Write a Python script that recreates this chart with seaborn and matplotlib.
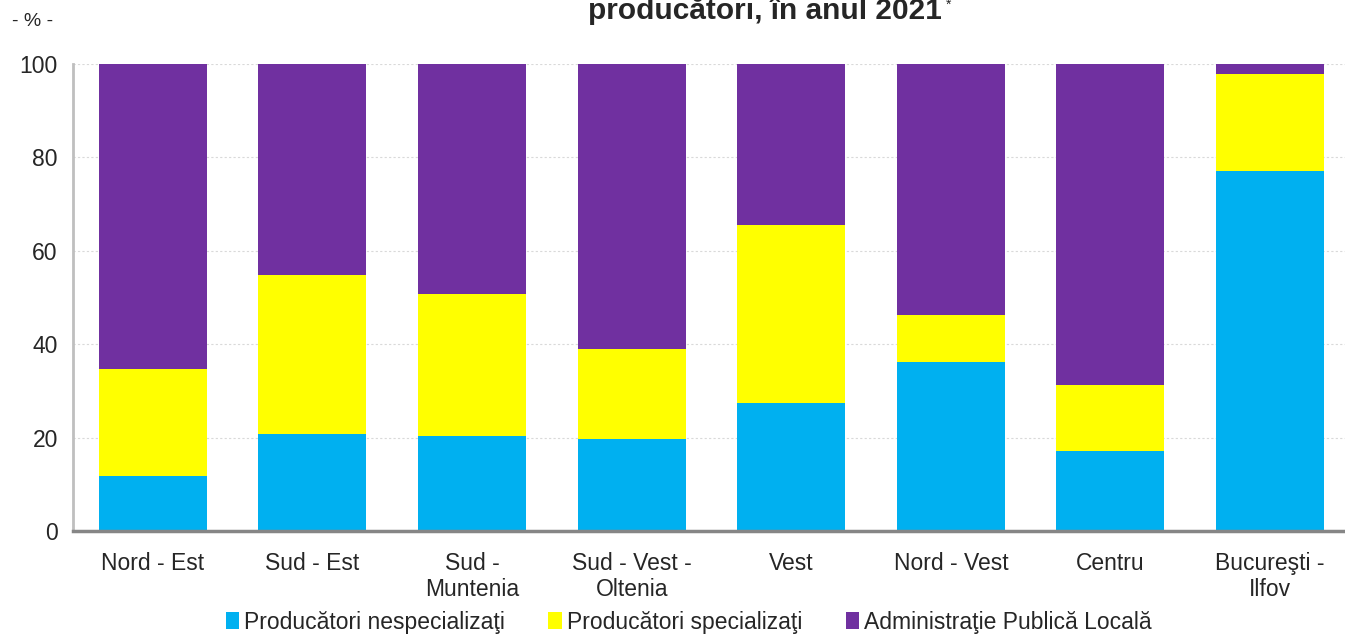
import matplotlib
matplotlib.use("Agg")
import matplotlib.pyplot as plt
import seaborn as sns
import numpy as np
from matplotlib.patches import Patch
from matplotlib.ticker import FixedLocator

regiuni = ['Nord - Est', 'Sud - Est', 'Sud -\nMuntenia', 'Sud - Vest -\nOltenia',
           'Vest', 'Nord - Vest', 'Centru', 'Bucureşti -\nIlfov']
nespecializati = [11.8, 20.8, 20.3, 19.7, 27.4, 36.2, 17.1, 77.1]
specializati = [22.9, 34.0, 30.4, 19.3, 38.1, 10.1, 14.2, 20.8]
administratie = [65.3, 45.2, 49.3, 61.0, 34.5, 53.7, 68.7, 2.1]

serii = ['Producători nespecializaţi', 'Producători specializaţi', 'Administraţie Publică Locală']
culori = ['#00B0F0', '#FFFF00', '#7030A0']

sns.set_style('white')
plt.rcParams['font.family'] = ['Liberation Sans', 'DejaVu Sans']

fig = plt.figure(figsize=(13.45, 6.35), dpi=100)
ax = fig.add_axes([0.0543, 0.1638, 0.9493, 0.7354])

# stacked bars drawn as cumulative totals, top layer first
cum1 = np.array(nespecializati)
cum2 = cum1 + np.array(specializati)
cum3 = cum2 + np.array(administratie)
for vals, col in zip([cum3, cum2, cum1], culori[::-1]):
    sns.barplot(x=regiuni, y=vals, color=col, width=0.677, ax=ax,
                saturation=1, edgecolor='none', zorder=3)

ax.set_ylim(0, 100)
ax.set_xlim(-0.5, 7.5)
ax.set_yticks([0, 20, 40, 60, 80, 100])
ax.yaxis.grid(True, color='#D9D9D9', linestyle=(0, (2, 2)), linewidth=0.8, zorder=0)
ax.xaxis.grid(False)

# category ticks at boundaries, labels at centres
ax.xaxis.set_major_locator(FixedLocator(np.arange(-0.5, 8, 1)))
ax.xaxis.set_minor_locator(FixedLocator(np.arange(0, 8)))
ax.set_xticklabels([''] * 9)
ax.set_xticklabels(regiuni, minor=True, fontsize=16.5, linespacing=1.15)
ax.tick_params(axis='x', which='major', length=6, width=2, color='#868686', direction='out')
ax.tick_params(axis='x', which='minor', length=0, pad=15)
ax.tick_params(axis='y', length=6, width=2, color='#BFBFBF', direction='out', labelsize=16.5, pad=5)

for s in ['top', 'right']:
    ax.spines[s].set_visible(False)
ax.spines['left'].set_color('#BFBFBF')
ax.spines['left'].set_linewidth(2)
ax.spines['bottom'].set_color('#868686')
ax.spines['bottom'].set_linewidth(2.5)
ax.spines['bottom'].set_zorder(5)
ax.set_xlabel('')
ax.set_ylabel('')

fig.text(0.024, 0.966, '- % -', fontsize=14, ha='center', va='center')
fig.text(0.569, 0.983, 'producători, în anul 2021', fontsize=21.5, fontweight='bold',
         ha='center', va='center')
fig.text(0.7035, 0.993, '*', fontsize=10, ha='left', va='center')

handles = [Patch(facecolor=c, edgecolor='none') for c in culori]
fig.legend(handles, serii, loc='center', bbox_to_anchor=(0.512, 0.02), ncol=3,
           frameon=False, fontsize=16.5, handlelength=0.6, handleheight=0.75,
           handletextpad=0.2, columnspacing=1.9, borderaxespad=0)

fig.savefig('out.png', dpi=100)
